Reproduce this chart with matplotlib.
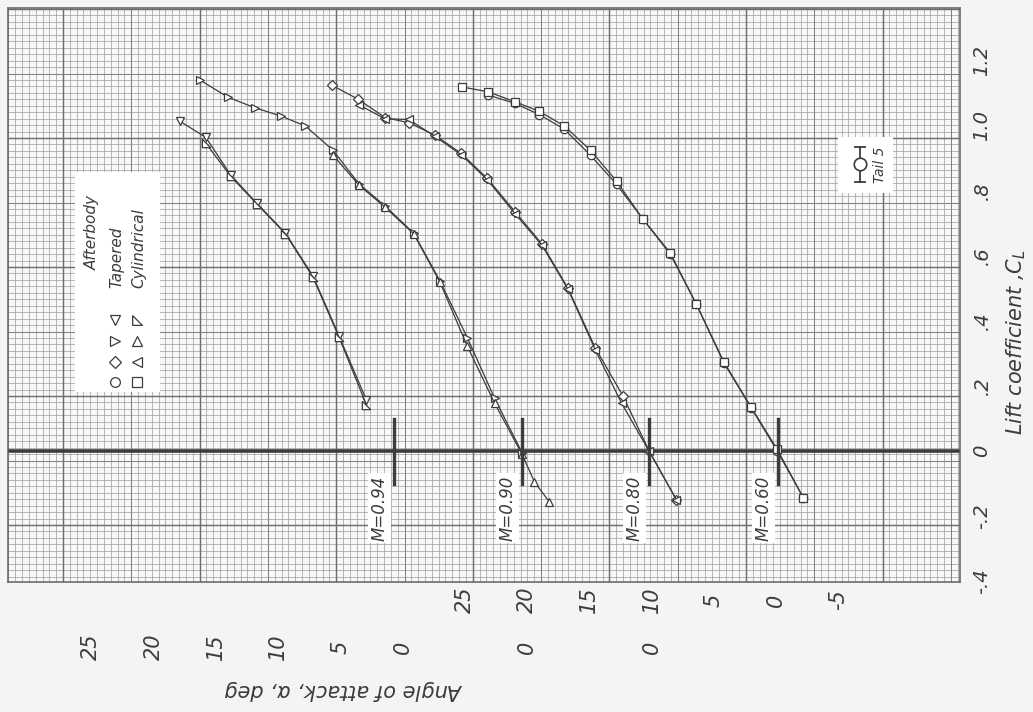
import matplotlib.pyplot as plt
import numpy as np
from matplotlib.collections import LineCollection
from matplotlib.patches import Rectangle
from matplotlib.lines import Line2D

# ---- data (alpha in deg, lift coefficient) ----
mach_labels = ["M=0.60", "M=0.80", "M=0.90", "M=0.94"]
alpha_shift = [0, 10, 20, 30]           # each curve is slid along the alpha scale
alpha_zero_lift = [-0.16, 0.2, 0.4, 0.7]

# M = 0.60  (tapered: circle, cylindrical: square)
a60_tap = [23.1, 21.0, 19.0, 17.0, 14.9, 12.8, 10.7, 8.5, 6.4, 4.2, 2.0, -0.1, -2.2]
cl60_tap = [1.095, 1.070, 1.035, 0.990, 0.910, 0.820, 0.714, 0.606, 0.452, 0.272, 0.133, 0.000, -0.144]
a60_cyl = [25.2, 23.1, 21.0, 19.0, 17.0, 14.9, 12.8, 10.7, 8.5, 6.4, 4.2, 2.0, -0.1, -2.2]
cl60_cyl = [1.120, 1.105, 1.075, 1.045, 1.000, 0.925, 0.830, 0.714, 0.610, 0.452, 0.275, 0.135, 0.005, -0.144]

# M = 0.80  (tapered: diamond, cylindrical: left triangle)
a80_tap = [25.7, 23.55, 21.4, 19.5, 17.4, 15.3, 13.2, 10.96, 8.8, 6.7, 4.5, 2.3, 0.2, -2.0]
cl80_tap = [1.126, 1.082, 1.026, 1.010, 0.972, 0.916, 0.839, 0.736, 0.637, 0.500, 0.316, 0.170, 0.001, -0.150]
a80_cyl = [23.5, 21.4, 19.5, 17.4, 15.3, 13.2, 10.96, 8.8, 6.7, 4.5, 2.4, 0.2, -2.0]
cl80_cyl = [1.065, 1.022, 1.020, 0.968, 0.912, 0.835, 0.730, 0.633, 0.497, 0.310, 0.147, 0.000, -0.150]

# M = 0.90  (tapered: right triangle, cylindrical: up triangle)
a90_tap = [26.3, 24.0, 21.85, 19.8, 17.8, 15.6, 13.5, 11.4, 9.1, 7.0, 4.8, 2.6, 0.4]
cl90_tap = [1.142, 1.088, 1.056, 1.031, 1.000, 0.926, 0.822, 0.754, 0.670, 0.524, 0.349, 0.162, -0.005]
a90_cyl = [15.6, 13.5, 11.4, 9.1, 7.0, 4.8, 2.6, 0.4, -0.6, -1.8]
cl90_cyl = [0.911, 0.818, 0.750, 0.668, 0.520, 0.323, 0.147, -0.010, -0.095, -0.157]

# M = 0.94  (tapered: down triangle, cylindrical: corner triangle)
a94_tap = [17.9, 15.8, 13.8, 11.7, 9.4, 7.2, 5.1, 2.9]
cl94_tap = [1.015, 0.965, 0.849, 0.762, 0.670, 0.539, 0.354, 0.157]
a94_cyl = [15.8, 13.8, 11.7, 9.4, 7.2, 5.1, 2.9]
cl94_cyl = [0.947, 0.845, 0.760, 0.668, 0.535, 0.350, 0.142]

series = [
    (a60_tap, cl60_tap, a60_cyl, cl60_cyl),
    (a80_tap, cl80_tap, a80_cyl, cl80_cyl),
    (a90_tap, cl90_tap, a90_cyl, cl90_cyl),
    (a94_tap, cl94_tap, a94_cyl, cl94_cyl),
]
corner_tri = [(-1, 1), (-1, -1), (1, -1), (-1, 1)]
tap_markers = ["o", "D", ">", "v"]
cyl_markers = ["s", "<", "^", corner_tri]

cl_ticks = [-0.4, -0.2, 0, 0.2, 0.4, 0.6, 0.8, 1.0, 1.2]
cl_ticklabels = ["-.4", "-.2", "0", ".2", ".4", ".6", ".8", "1.0", "1.2"]
alpha_ticks_60 = [25, 20, 15, 10, 5, 0, -5]
alpha_ticks_80 = [0]
alpha_ticks_90 = [0]
alpha_ticks_94 = [25, 20, 15, 10, 5, 0]

# ---- figure ----
W, H = 1033, 712
L, R, T, B = 8, 960, 8, 582
ink = "#3c3c3c"
paper = "#f4f4f2"

fig = plt.figure(figsize=(W / 100, H / 100), dpi=100, facecolor=paper)
ax = fig.add_axes([L / W, 1 - B / H, (R - L) / W, (B - T) / H])
ax.set_facecolor("#f8f8f6")
ax.set_xlim(61.69, -14.78)
ax.set_ylim(-0.403, 1.363)

# graph paper
def ax_x(xp):
    return (xp - L) / (R - L)

def ax_y(yp):
    return (B - yp) / (B - T)

segs = {0: [], 1: [], 2: []}
sx = 6.83
for k in range(-10, 140):
    xp = 63 + sx * k
    if L < xp < R:
        lvl = 2 if k % 20 == 0 else (1 if k % 10 == 0 else 0)
        segs[lvl].append([(ax_x(xp), 0), (ax_x(xp), 1)])
sy = 6.45
for k in range(-30, 90):
    yp = 138 + sy * k
    if T < yp < B:
        lvl = 2 if k % 20 == 0 else (1 if k % 10 == 0 else 0)
        segs[lvl].append([(0, ax_y(yp)), (1, ax_y(yp))])
styles = {0: (0.5, "#9c9c9c"), 1: (0.75, "#828282"), 2: (1.05, "#6e6e6e")}
for lvl, s in segs.items():
    ax.add_collection(LineCollection(s, linewidths=styles[lvl][0], colors=styles[lvl][1],
                                     transform=ax.transAxes, zorder=0.5))

for sp in ax.spines.values():
    sp.set_color("#606060")
    sp.set_linewidth(1.1)

ax.axhline(0, color=ink, lw=2.6, zorder=2)

# curves
for i, (at, ct, ac, cc) in enumerate(series):
    sh = alpha_shift[i]
    ax.plot(np.array(at) + sh, ct, "-", color=ink, lw=0.9, marker=tap_markers[i],
            ms=6 if tap_markers[i] != "D" else 5, mfc="white", mec=ink, mew=0.9, zorder=3)
    ax.plot(np.array(ac) + sh, cc, "-", color=ink, lw=0.9, marker=cyl_markers[i],
            ms=6, mfc="white", mec=ink, mew=0.9, zorder=3)
    x0 = alpha_zero_lift[i] + sh
    ax.plot([x0, x0], [-0.1, 0.1], color=ink, lw=2.4, zorder=4)
    ax.text(x0 + 1.15, -0.175, mach_labels[i], rotation=90, ha="center", va="center",
            fontsize=12, style="italic", color=ink, zorder=5,
            bbox=dict(boxstyle="square,pad=0.15", fc="white", ec="none"))

# CL scale on the right
ax.set_xticks([])
ax.yaxis.tick_right()
ax.set_yticks(cl_ticks)
ax.set_yticklabels(cl_ticklabels, rotation=90, va="center", fontsize=14, style="italic", color=ink)
ax.tick_params(axis="y", length=0, pad=9)
ax.text(-19.3, 0.335, "Lift coefficient ,$C_L$", rotation=90, ha="center", va="center",
        fontsize=15, style="italic", color=ink, clip_on=False)

# alpha scales below
tick_kw = dict(rotation=90, ha="center", va="center", fontsize=15, style="italic",
               color=ink, clip_on=False)
for v in alpha_ticks_60:
    ax.text(v + alpha_shift[0], -0.458, str(v), **tick_kw)
for v in alpha_ticks_80:
    ax.text(v + alpha_shift[1], -0.603, str(v), **tick_kw)
for v in alpha_ticks_90:
    ax.text(v + alpha_shift[2], -0.603, str(v), **tick_kw)
for v in alpha_ticks_94:
    ax.text(v + alpha_shift[3], -0.603, str(v), **tick_kw)
ax.text(34.6, -0.735, "Angle of attack, α, deg", rotation=180, ha="center", va="center",
        fontsize=15, style="italic", color=ink, clip_on=False)

# key box
def fx(xp):
    return xp / W

def fy(yp):
    return 1 - yp / H

fig.add_artist(Rectangle((fx(75), fy(392)), fx(160) - fx(75), fy(172) - fy(392),
                         transform=fig.transFigure, fc="white", ec="none", zorder=6))
txt_kw = dict(rotation=90, rotation_mode="anchor", ha="left", va="center", fontsize=11,
              style="italic", color=ink, zorder=7)
fig.text(fx(92), fy(270), "Afterbody", **txt_kw)
fig.text(fx(117), fy(288), "Tapered", **txt_kw)
fig.text(fx(139), fy(288), "Cylindrical", **txt_kw)
key_rows = [382, 362, 341, 320]
for i in range(4):
    fig.add_artist(Line2D([fx(115)], [fy(key_rows[i])], marker=tap_markers[i], ms=7 if i != 1 else 6,
                          mfc="white", mec=ink, mew=0.9, ls="none", transform=fig.transFigure, zorder=7))
    fig.add_artist(Line2D([fx(137)], [fy(key_rows[i])], marker=cyl_markers[i], ms=7,
                          mfc="white", mec=ink, mew=0.9, ls="none", transform=fig.transFigure, zorder=7))

# tail sketch box
fig.add_artist(Rectangle((fx(838), fy(193)), fx(893) - fx(838), fy(137) - fy(193),
                         transform=fig.transFigure, fc="white", ec="none", zorder=6))
fig.add_artist(Line2D([fx(860), fx(860)], [fy(147), fy(182)], color=ink, lw=1.3,
                      transform=fig.transFigure, zorder=7))
for yb in (147, 182):
    fig.add_artist(Line2D([fx(855), fx(865)], [fy(yb), fy(yb)], color=ink, lw=1.3,
                          transform=fig.transFigure, zorder=7))
fig.add_artist(Line2D([fx(860)], [fy(164)], marker="o", ms=9, mfc="white", mec=ink, mew=1.2,
                      ls="none", transform=fig.transFigure, zorder=8))
fig.text(fx(880), fy(165), "Tail 5", rotation=90, ha="center", va="center", fontsize=10,
         style="italic", color=ink, zorder=8)

fig.savefig("out.png", dpi=100, facecolor=paper)
